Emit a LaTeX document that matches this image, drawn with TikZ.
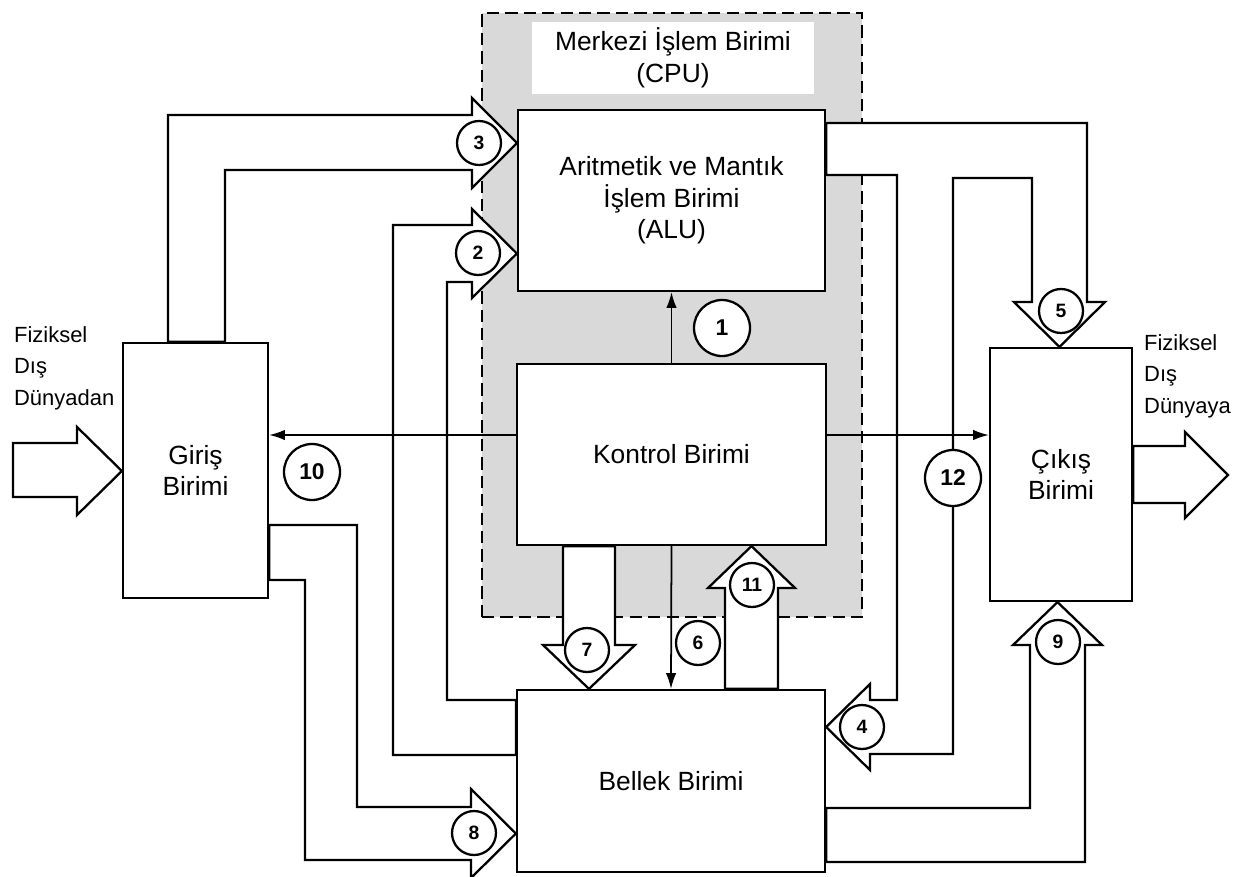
\documentclass[tikz,border=0pt]{standalone}
\usepackage{fontspec}
\setmainfont{Liberation Sans}
\usepackage{tikz}
\usetikzlibrary{positioning,arrows.meta,calc}

\begin{document}
\begin{tikzpicture}[
  x=0.02cm, y=-0.02cm,
  font=\fontsize{15}{18}\selectfont,
  line width=1.3pt,
  unit/.style={draw, fill=white, align=center, inner sep=0pt},
  band/.style={draw, fill=white, line join=miter},
  cpubox/.style={draw, dash pattern=on 7pt off 3.5pt, fill=black!15},
  num/.style={draw, circle, fill=white, inner sep=0pt, minimum size=0.88cm,
              font=\fontsize{11}{11}\selectfont\bfseries},
  bignum/.style={num, minimum size=1.12cm, font=\fontsize{13}{13}\selectfont\bfseries},
  side/.style={align=left, inner sep=0pt, font=\fontsize{12.5}{18}\selectfont},
  arr/.style={-{Latex[length=9pt,width=6pt]}, line width=1pt}
]
\useasboundingbox (0,0) rectangle (1241,876);
\fill[white] (0,0) rectangle (1241,876);

\node[cpubox, minimum width=7.6cm, minimum height=12.08cm] (cpu) at (672,315) {};
\node[fill=white, minimum width=5.66cm, minimum height=1.38cm, align=center] (cpulbl) at (673,58) {Merkezi İşlem Birimi\\(CPU)};

\node[unit, minimum width=6.14cm, minimum height=3.62cm] (alu) at (671.5,200.5) {Aritmetik ve Mantık\\İşlem Birimi\\(ALU)};
\node[unit, minimum width=6.18cm, minimum height=3.62cm] (kontrol) at (671.5,454.5) {Kontrol Birimi};
\node[unit, minimum width=6.16cm, minimum height=3.64cm] (bellek) at (671,781) {Bellek Birimi};
\node[unit, minimum width=2.9cm, minimum height=5.1cm] (giris) at (195.5,470.5) {Giriş\\Birimi};
\node[unit, minimum width=2.84cm, minimum height=5.06cm] (cikis) at (1061,474.5) {Çıkış\\Birimi};

\filldraw[band] (giris.north -| 168,0) -- (168,115) -- (472,115) -- (472,98) -- (alu.west |- 0,143)
  -- (472,188) -- (472,170) -- (225,170) -- (giris.north -| 225,0) -- cycle;
\filldraw[band] (bellek.west |- 0,700) -- (447,700) -- (447,282) -- (472,282) -- (472,298)
  -- (alu.west |- 0,253.5) -- (472,209) -- (472,225) -- (393,225) -- (393,755) -- (bellek.west |- 0,755) -- cycle;
\filldraw[band] (giris.east |- 0,525) -- (357,525) -- (357,807) -- (471,807) -- (471,789)
  -- (bellek.west |- 0,833.5) -- (471,878) -- (471,860) -- (305,860) -- (305,580) -- (giris.east |- 0,580) -- cycle;
\filldraw[band] (bellek.east |- 0,808) -- (1030,808) -- (1030,645) -- (1013,645) -- (cikis.south -| 1057.5,0)
  -- (1102,645) -- (1085,645) -- (1085,862) -- (bellek.east |- 0,862) -- cycle;
\filldraw[band] (alu.east |- 0,123) -- (1087,123) -- (1087,302) -- (1105,302) -- (cikis.north -| 1059.5,0)
  -- (1014,302) -- (1032,302) -- (1032,178) -- (953,178) -- (953,754) -- (870,754) -- (870,770)
  -- (bellek.east |- 0,727) -- (870,684) -- (870,700) -- (897,700) -- (897,175) -- (alu.east |- 0,175) -- cycle;
\filldraw[band] (kontrol.south -| 563,0) -- (563,645) -- (543,645) -- (bellek.north -| 589,0)
  -- (635,645) -- (615,645) -- (kontrol.south -| 615,0) -- cycle;
\filldraw[band] (bellek.north -| 725,0) -- (725,588) -- (708,588) -- (kontrol.south -| 751.5,0)
  -- (795,588) -- (778,588) -- (bellek.north -| 778,0) -- cycle;
\filldraw[band] (13,443) -- (77,443) -- (77,427) -- (giris.west |- 0,471) -- (77,515) -- (77,497) -- (13,497) -- cycle;
\filldraw[band] (cikis.east |- 0,446) -- (1185,446) -- (1185,432) -- (1228,475) -- (1185,518) -- (1185,503)
  -- (cikis.east |- 0,503) -- cycle;

\draw[arr] (kontrol.north) -- (alu.south);
\draw[arr] (kontrol.south) -- (bellek.north);
\draw[arr] (kontrol.west |- 0,435) -- (giris.east |- 0,435);
\draw[arr] (kontrol.east |- 0,435) -- (cikis.west |- 0,435);

\node[num] (n3) at (479,143) {3};
\node[num] (n2) at (478,253) {2};
\node[bignum] (n1) at (722,328) {1};
\node[bignum] (n10) at (312,472) {10};
\node[bignum] (n12) at (953,478) {12};
\node[num] (n5) at (1061,311) {5};
\node[num] (n7) at (587,650) {7};
\node[num] (n6) at (698,643) {6};
\node[num] (n11) at (752,585) {11};
\node[num] (n4) at (862,727) {4};
\node[num] (n9) at (1058,642) {9};
\node[num] (n8) at (474,833) {8};

\node[side, anchor=north west] (inlbl) at (13,325) {Fiziksel\\Dış\\Dünyadan};
\node[side, anchor=north west] (outlbl) at (1143,333) {Fiziksel\\Dış\\Dünyaya};
\end{tikzpicture}
\end{document}
